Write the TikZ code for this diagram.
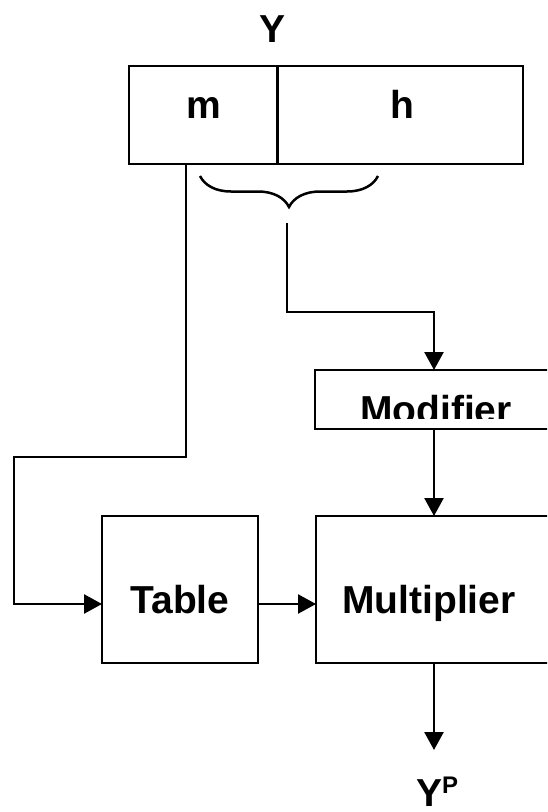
\documentclass[tikz,border=0pt]{standalone}
\usepackage{fontspec}
\setmainfont{Liberation Sans}
\usetikzlibrary{arrows.meta,decorations.pathreplacing}
\begin{document}
\begin{tikzpicture}[x=1pt,y=-1pt,
  box/.style={draw,line width=2.5pt,rectangle,inner sep=0pt,outer sep=0pt},
  lbl/.style={inner sep=0pt,anchor=base,font=\fontsize{39}{41}\selectfont\bfseries},
  wire/.style={line width=2.5pt},
  arr/.style={wire,-{Triangle[length=18pt,width=19pt]}}]
\clip (0,0) rectangle (547,812);

% register Y split into its two fields
\node[box,minimum width=148pt,minimum height=98pt] (mbox) at (203,115) {};
\node[box,minimum width=245pt,minimum height=98pt] (hbox) at (400.5,115) {};
\node[lbl] (ylbl) at (273,42) {Y};
\node[lbl] (mlbl) at (204,118) {m};
\node[lbl] (hlbl) at (402,118) {h};

% brace under the h field
\draw[wire,decorate,decoration={brace,amplitude=31pt,mirror}] (200,176) -- (378,176);

% processing blocks
\node[box,minimum width=238pt,minimum height=59pt] (mod) at (434,399.5) {};
\node[box,minimum width=156pt,minimum height=147pt] (table) at (180,589.5) {};
\node[box,minimum width=236pt,minimum height=147pt] (mult) at (434,589.5) {};
\begin{scope}
  \clip (mod.north west) rectangle (547,418);
  \node[lbl] (modlbl) at (436,423) {Modifier};
\end{scope}
\node[lbl] (tablbl) at (180,613) {Table};
\node[lbl] (multlbl) at (429,613) {Multiplier};
\node[lbl,anchor=base west] (yp) at (416,806)
  {Y\raisebox{13pt}{\fontsize{24}{24}\selectfont P}};

% routing points
\coordinate (tap) at (186,164);
\coordinate (bendL) at (14,457);
\coordinate (row) at (14,604);
\coordinate (hsrc) at (287,223);
\coordinate (bendR) at (434,312);
\coordinate (out) at (434,750);

% connectors
\draw[arr] (tap) |- (bendL) -- (row) -- (table.west |- row);
\draw[arr] (table.east |- row) -- (mult.west |- row);
\draw[arr] (hsrc) |- (bendR) -- (mod.north);
\draw[arr] (mod.south) -- (mult.north);
\draw[arr] (mult.south) -- (out);
\end{tikzpicture}
\end{document}
